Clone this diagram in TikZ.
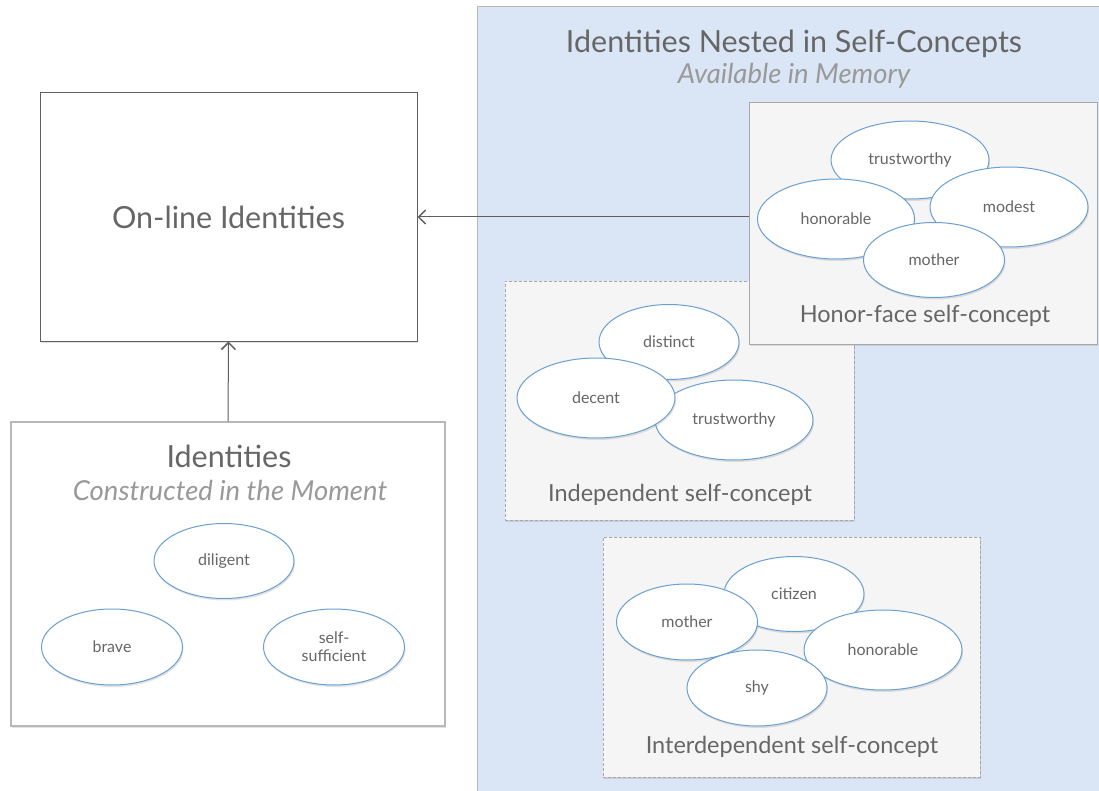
\documentclass[tikz,border=0pt]{standalone}
\usepackage{fontspec}
\setmainfont{Lato}
\usetikzlibrary{shapes.geometric,shadows,arrows.meta}
\definecolor{panelblue}{HTML}{DAE6F5}
\definecolor{panelline}{HTML}{B8B8B8}
\definecolor{boxfill}{HTML}{F5F5F5}
\definecolor{boxline}{HTML}{A8A8A8}
\definecolor{ovalline}{HTML}{6A9FD2}
\definecolor{txt}{HTML}{666666}
\definecolor{subtxt}{HTML}{999999}
\definecolor{arrowgray}{HTML}{5F5F5F}
\tikzset{
  softshadow/.style={drop shadow={shadow xshift=1pt,shadow yshift=-2pt,opacity=0.18,fill=black!60}},
  trait/.style={ellipse,draw=ovalline,line width=1pt,fill=white,text=txt,inner sep=0pt,
    font=\fontsize{16}{18}\selectfont,align=center,softshadow},
  conceptbox/.style={draw=boxline,fill=boxfill,line width=1pt,softshadow},
  dashbox/.style={draw=boxline,fill=boxfill,line width=0.8pt,dash pattern=on 3pt off 2pt,softshadow},
  boxlabel/.style={text=txt,font=\fontsize{23.5}{27}\selectfont},
  bigtitle/.style={text=txt,font=\fontsize{30.5}{34}\selectfont},
  subtitle/.style={text=subtxt,font=\fontsize{27.5}{31}\selectfont\itshape},
  link/.style={draw=arrowgray,line width=1pt,-{Straight Barb[length=7pt,width=14pt,line width=1.5pt]}}
}
\begin{document}
\begin{tikzpicture}[x=1pt,y=-1pt]
\useasboundingbox (0,0) rectangle (1099,791);
\fill[white] (0,0) rectangle (1099,791);

% memory panel
\fill[panelblue] (477,7) rectangle (1105,800);
\draw[panelline,line width=1pt] (477,800) -- (477,7) -- (1105,7);
\node[bigtitle] (memtitle) at (794,44) {Identities Nested in Self-Concepts};
\node[subtitle] (memsub) at (794,76) {Available in Memory};

% on-line identities
\node[draw=arrowgray,line width=1pt,fill=white,minimum width=377pt,minimum height=248pt,
      inner sep=0pt,bigtitle,softshadow] (online) at (228.5,217) {On-line Identities};

% identities constructed in the moment
\node[draw=panelline,line width=1.2pt,fill=white,minimum width=434pt,minimum height=304pt,
      inner sep=0pt,softshadow] (moment) at (228,574) {};
\node[bigtitle] (momtitle) at (229,456) {Identities};
\node[subtitle] (momsub) at (230,490) {Constructed in the Moment};
\node[trait,minimum width=140pt,minimum height=75pt] (diligent) at (224,561) {diligent};
\node[trait,minimum width=141pt,minimum height=76pt] (brave) at (112,647) {brave};
\node[trait,minimum width=141pt,minimum height=76pt] (selfsuff) at (334,647) {self-\\sufficient};

% independent self-concept
\node[dashbox,minimum width=349pt,minimum height=239pt,inner sep=0pt] (indep) at (679.5,400.5) {};
\node[trait,minimum width=140pt,minimum height=75pt] (distinct) at (669,342) {distinct};
\node[trait,minimum width=158pt,minimum height=80pt] (trustB) at (734,420) {trustworthy};
\node[trait,minimum width=158pt,minimum height=80pt] (decent) at (596,398) {decent};
\node[boxlabel] (indeplabel) at (680,495) {Independent self-concept};

% honor-face self-concept
\node[conceptbox,minimum width=348pt,minimum height=241pt,inner sep=0pt] (honor) at (923,223.5) {};
\node[trait,minimum width=158pt,minimum height=78pt] (trustA) at (910,160) {trustworthy};
\node[trait,minimum width=157pt,minimum height=80pt] (honorableA) at (836,219) {honorable};
\node[trait,minimum width=158pt,minimum height=80pt] (modest) at (1009,207) {modest};
\node[trait,minimum width=141pt,minimum height=75pt] (motherA) at (934,260) {mother};
\node[boxlabel] (honorlabel) at (925,316) {Honor-face self-concept};

% interdependent self-concept
\node[dashbox,minimum width=377pt,minimum height=240pt,inner sep=0pt] (inter) at (791.5,657) {};
\node[trait,minimum width=140pt,minimum height=75pt] (citizen) at (794,594) {citizen};
\node[trait,minimum width=141pt,minimum height=76pt] (motherB) at (687,622) {mother};
\node[trait,minimum width=158pt,minimum height=80pt] (honorableB) at (883,650) {honorable};
\node[trait,minimum width=140pt,minimum height=76pt] (shy) at (757,688) {shy};
\node[boxlabel] (interlabel) at (792,747) {Interdependent self-concept};

% connectors
\draw[link] (honor.west |- online.east) -- (online.east);
\draw[link] (moment.north) -- (online.south);
\end{tikzpicture}
\end{document}
